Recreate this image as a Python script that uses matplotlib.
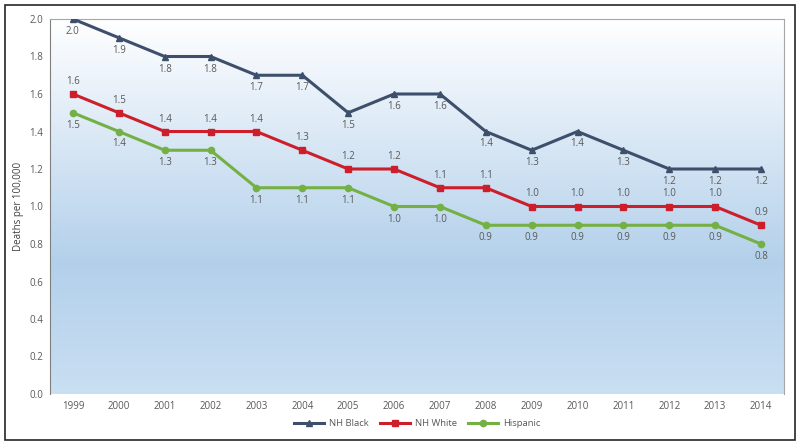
import numpy as np
import matplotlib
matplotlib.use("Agg")
import matplotlib.pyplot as plt
from matplotlib.colors import LinearSegmentedColormap
from matplotlib.patches import Rectangle

years = ["1999", "2000", "2001", "2002", "2003", "2004", "2005", "2006",
         "2007", "2008", "2009", "2010", "2011", "2012", "2013", "2014"]
nh_black = [2.0, 1.9, 1.8, 1.8, 1.7, 1.7, 1.5, 1.6, 1.6, 1.4, 1.3, 1.4, 1.3, 1.2, 1.2, 1.2]
nh_white = [1.6, 1.5, 1.4, 1.4, 1.4, 1.3, 1.2, 1.2, 1.1, 1.1, 1.0, 1.0, 1.0, 1.0, 1.0, 0.9]
hispanic = [1.5, 1.4, 1.3, 1.3, 1.1, 1.1, 1.1, 1.0, 1.0, 0.9, 0.9, 0.9, 0.9, 0.9, 0.9, 0.8]

plt.rcParams['font.family'] = ['Open Sans', 'DejaVu Sans']

fig = plt.figure(figsize=(8, 4.45), dpi=100)
ax = fig.add_axes([50/800, 1 - 394/445, 734/800, 375/445])

# gradient background of the plot area
bg = LinearSegmentedColormap.from_list("bg", [(0, "#c9dff2"), (0.35, "#b3d0eb"), (1, "#ffffff")])
grad = np.linspace(0, 1, 256).reshape(-1, 1)
ax.imshow(grad, cmap=bg, aspect="auto", origin="lower",
          extent=[0, 1, 0, 1], transform=ax.transAxes, zorder=0)

x = np.arange(len(years))
series = [
    (nh_black, "NH Black", "#3e4f6b", "^", -9),
    (nh_white, "NH White", "#cc1f2b", "s", 9),
    (hispanic, "Hispanic", "#74b043", "o", -9),
]
for vals, name, col, mk, off in series:
    ax.plot(x, vals, color=col, lw=2.2, marker=mk, markersize=4.5, label=name, zorder=3)
    for xi, v in zip(x, vals):
        ax.annotate(f"{v:.1f}", (xi, v), xytext=(0, off), textcoords="offset points",
                    ha="center", va="center", fontsize=7, color="#595959", zorder=4)

ax.set_xlim(-0.5, len(years) - 0.5)
ax.set_ylim(0, 2.0)
ax.set_yticks(np.arange(0, 2.01, 0.2))
ax.set_yticklabels([f"{t:.1f}" for t in np.arange(0, 2.01, 0.2)])
ax.set_xticks(x)
ax.set_xticklabels(years)
ax.tick_params(length=0, labelsize=7, labelcolor="#595959")
ax.tick_params(axis="y", pad=5)
ax.tick_params(axis="x", pad=5)
ax.set_ylabel("Deaths per 100,000", fontsize=7, color="#404040")
ax.yaxis.set_label_coords(-26/734, 0.5)

for s in ["top", "right"]:
    ax.spines[s].set_color("#a6a6a6")
    ax.spines[s].set_linewidth(0.8)
ax.spines["left"].set_color("#7f7f7f")
ax.spines["bottom"].set_visible(False)

leg = ax.legend(loc="center", bbox_to_anchor=(0.5, -0.08), ncol=3, frameon=False,
                fontsize=6.8, handlelength=3.2, columnspacing=1.2, handletextpad=0.5)
for t in leg.get_texts():
    t.set_color("#595959")

fig.patches.append(Rectangle((5/800, 5/445), 790/800, 435/445, transform=fig.transFigure,
                             fill=False, edgecolor="#262626", linewidth=1.2))

fig.savefig("out.png", dpi=100)
